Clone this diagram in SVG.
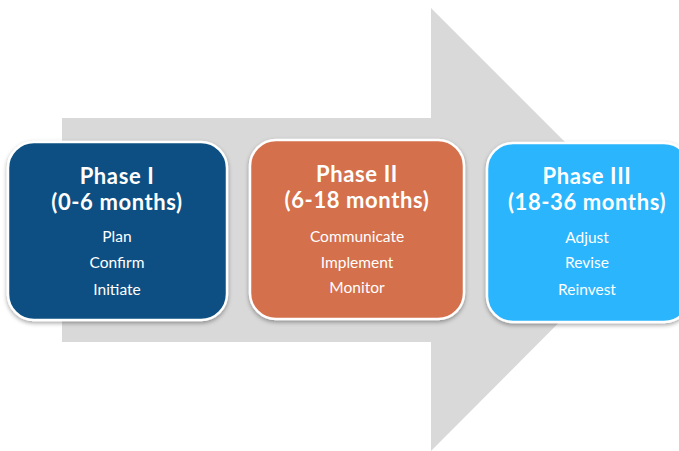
<svg xmlns="http://www.w3.org/2000/svg" width="679" height="451" viewBox="0 0 679 451">
  <defs>
    <filter id="shadow" x="-10%" y="-10%" width="120%" height="125%">
      <feDropShadow dx="0" dy="2" stdDeviation="2" flood-color="#000" flood-opacity="0.35"/>
    </filter>
    <style>
      .card { stroke: #ffffff; stroke-width: 2.5; filter: url(#shadow); }
      .title { font-family: "Lato", "Open Sans", sans-serif; font-weight: bold; font-size: 22px; letter-spacing: 0.6px; fill: #ffffff; text-anchor: middle; }
      .item { font-family: "Lato", "Open Sans", sans-serif; font-size: 15.5px; fill: #ffffff; text-anchor: middle; }
    </style>
  </defs>
  <rect width="679" height="451" fill="#ffffff"/>

  <!-- background progress arrow -->
  <g id="connectors">
    <polygon points="62,118 431,118 431,8 652,229 431,451 431,342 62,342" fill="#d9d9d9"/>
  </g>

  <g id="phase1">
    <rect class="card" x="8" y="142" width="219" height="178" rx="26" fill="#0b5082"/>
    <text class="title" x="117" y="184">Phase I</text>
    <text class="title" x="117" y="210">(0-6 months)</text>
    <text class="item" x="117" y="242">Plan</text>
    <text class="item" x="117" y="268">Confirm</text>
    <text class="item" x="117" y="295">Initiate</text>
  </g>

  <g id="phase2">
    <rect class="card" x="250" y="140" width="214" height="179" rx="26" fill="#d4704c"/>
    <text class="title" x="357" y="182">Phase II</text>
    <text class="title" x="357" y="208">(6-18 months)</text>
    <text class="item" x="357" y="242">Communicate</text>
    <text class="item" x="357" y="268">Implement</text>
    <text class="item" x="357" y="293">Monitor</text>
  </g>

  <g id="phase3">
    <rect class="card" x="487" y="143" width="203" height="179" rx="26" fill="#2cb5fd"/>
    <text class="title" x="587" y="184">Phase III</text>
    <text class="title" x="587" y="210">(18-36 months)</text>
    <text class="item" x="587" y="243">Adjust</text>
    <text class="item" x="587" y="268">Revise</text>
    <text class="item" x="587" y="295">Reinvest</text>
  </g>
</svg>
